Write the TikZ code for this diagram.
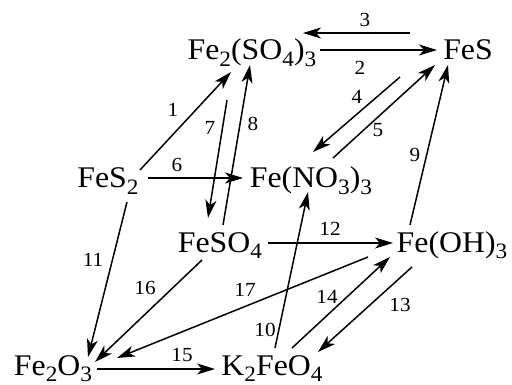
\documentclass[tikz,border=0pt]{standalone}
\usepackage{fontspec}
\setmainfont{Liberation Serif}[FakeStretch=1.06]
\usetikzlibrary{arrows.meta}
\newcommand{\chsub}[1]{\raisebox{-6.5pt}{\fontsize{22}{22}\selectfont #1}}
\tikzset{
  chem/.style={inner sep=0pt, anchor=base, font=\fontsize{30}{30}\selectfont},
  num/.style={inner sep=0pt, font=\fontsize{20}{20}\selectfont},
  arr/.style={-{Stealth[length=18pt, width=11pt, inset=5pt]}, line width=1.5pt}
}

\begin{document}
\begin{tikzpicture}[x=1pt, y=-1pt]

  \useasboundingbox (0,0) rectangle (512,385);

  % compounds
  \node[chem] (fesulf) at (252,60)  {Fe\chsub{2}(SO\chsub{4})\chsub{3}};
  \node[chem] (fes)    at (468,60)  {FeS};
  \node[chem] (fes2)   at (108,188) {FeS\chsub{2}};
  \node[chem] (fenit)  at (311,188) {Fe(NO\chsub{3})\chsub{3}};
  \node[chem] (feso4)  at (220,252) {FeSO\chsub{4}};
  \node[chem] (feoh)   at (452,252) {Fe(OH)\chsub{3}};
  \node[chem] (fe2o3)  at (53,375)  {Fe\chsub{2}O\chsub{3}};
  \node[chem] (k2feo4) at (272,375) {K\chsub{2}FeO\chsub{4}};

  % reactions
  \draw[arr] ([shift={(32,-18)}]fes2.base)   -- ([shift={(-21,12)}]fesulf.base);
  \draw[arr] ([shift={(68,-10)}]fesulf.base) -- ([shift={(-31,-10)}]fes.base);
  \draw[arr] ([shift={(-58,-27)}]fes.base)   -- ([shift={(51,-27)}]fesulf.base);
  \draw[arr] ([shift={(-68,17)}]fes.base)    -- ([shift={(2,-36)}]fenit.base);
  \draw[arr] ([shift={(22,-30)}]fenit.base)  -- ([shift={(-33,5)}]fes.base);
  \draw[arr] ([shift={(40,-10)}]fes2.base)   -- ([shift={(-68,-10)}]fenit.base);
  \draw[arr] ([shift={(-25,40)}]fesulf.base) -- ([shift={(-12,-34)}]feso4.base);
  \draw[arr] ([shift={(3,-27)}]feso4.base)   -- ([shift={(-2,5)}]fesulf.base);
  \draw[arr] ([shift={(-42,-27)}]feoh.base)  -- ([shift={(-20,5)}]fes.base);
  \draw[arr] ([shift={(3,-27)}]k2feo4.base)  -- ([shift={(-3,4)}]fenit.base);
  \draw[arr] ([shift={(19,14)}]fes2.base)    -- ([shift={(35,-18)}]fe2o3.base);
  \draw[arr] ([shift={(48,-9)}]feso4.base)   -- ([shift={(-59,-9)}]feoh.base);
  \draw[arr] ([shift={(-40,15)}]feoh.base)   -- ([shift={(46,-23)}]k2feo4.base);
  \draw[arr] ([shift={(20,-27)}]k2feo4.base) -- ([shift={(-62,5)}]feoh.base);
  \draw[arr] ([shift={(44,-6)}]fe2o3.base)   -- ([shift={(-57,-6)}]k2feo4.base);
  \draw[arr] ([shift={(-18,8)}]feso4.base)   -- ([shift={(42,-13)}]fe2o3.base);
  \draw[arr] ([shift={(-84,5)}]feoh.base)    -- ([shift={(64,-17)}]fe2o3.base);

  % numbers
  \node[num] (n1)  at (173,110) {1};
  \node[num] (n2)  at (360,68)  {2};
  \node[num] (n3)  at (365,20)  {3};
  \node[num] (n4)  at (357,97)  {4};
  \node[num] (n5)  at (378,130) {5};
  \node[num] (n6)  at (177,165) {6};
  \node[num] (n7)  at (210,128) {7};
  \node[num] (n8)  at (253,124) {8};
  \node[num] (n9)  at (415,155) {9};
  \node[num] (n10) at (265,330) {10};
  \node[num] (n11) at (93,260)  {11};
  \node[num] (n12) at (330,229) {12};
  \node[num] (n13) at (400,305) {13};
  \node[num] (n14) at (327,297) {14};
  \node[num] (n15) at (182,355) {15};
  \node[num] (n16) at (145,288) {16};
  \node[num] (n17) at (245,290) {17};

\end{tikzpicture}
\end{document}
